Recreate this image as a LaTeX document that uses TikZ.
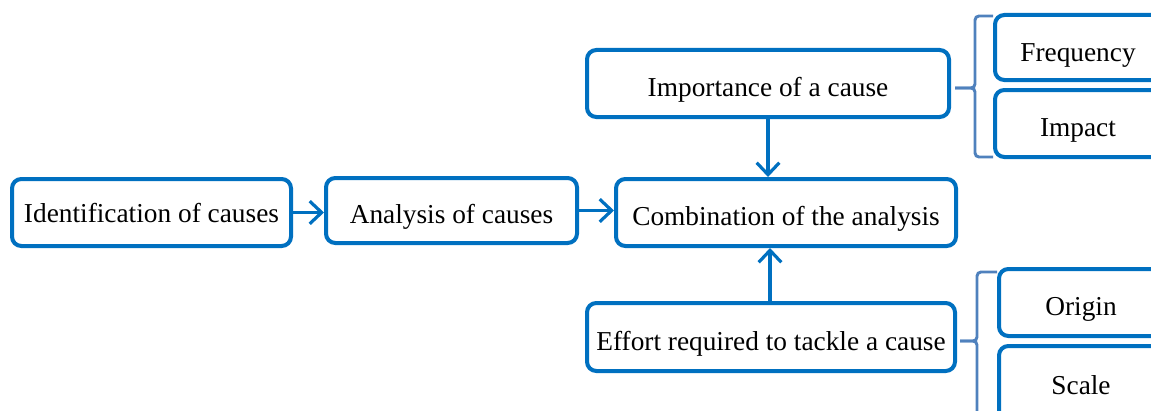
\documentclass[tikz,border=0pt]{standalone}
\usepackage{fontspec}
\setmainfont{Liberation Serif}
\usetikzlibrary{arrows.meta}
\definecolor{boxblue}{RGB}{0,112,192}
\definecolor{bracecol}{RGB}{79,129,189}
\tikzset{
  stepbox/.style={draw=boxblue, line width=3pt, rounded corners=7pt, inner sep=0pt,
    font=\fontsize{20.5}{24}\selectfont, text depth=0pt, text height=20pt},
  flow/.style={draw=boxblue, line width=2.4pt, -{Straight Barb[length=9pt,width=17pt,line width=2.4pt]}},
  bracel/.style={draw=bracecol, line width=2.2pt, rounded corners=3pt}
}
\begin{document}
\begin{tikzpicture}[x=0.75pt,y=-0.75pt]
\useasboundingbox (0,0) rectangle (1151,410);
\clip (0,0) rectangle (1151,410);
\node[stepbox, text height=14.25pt, minimum width=209.25pt, minimum height=50.25pt] (ident) at (151.5,212.5) {Identification of causes};
\node[stepbox, minimum width=188.25pt, minimum height=48.75pt] (anal) at (451.5,210.5) {Analysis of causes};
\node[stepbox, minimum width=255pt, minimum height=50.25pt] (comb) at (786,212.5) {Combination of the analysis};
\node[stepbox, text height=18.75pt, minimum width=271.5pt, minimum height=50.25pt] (imp) at (768,83.5) {Importance of a cause};
\node[stepbox, text height=19.5pt, minimum width=276pt, minimum height=51pt] (eff) at (771,337) {Effort required to tackle a cause};
\node[stepbox, text height=21.5pt, minimum width=124.5pt, minimum height=48.75pt] (freq) at (1078,47.5) {Frequency};
\node[stepbox, minimum width=124.5pt, minimum height=50.25pt] (impact) at (1078,123.5) {Impact};
\node[stepbox, minimum width=123pt, minimum height=50.25pt] (orig) at (1081,302.5) {Origin};
\node[stepbox, text height=16.5pt, minimum width=123pt, minimum height=55.5pt] (scale) at (1081,383) {Scale};
\draw[flow] (ident.east) -- (anal.west |- ident.east);
\draw[flow] (anal.east) -- (comb.west |- anal.east);
\draw[flow] (imp.south -| 768,0) -- (comb.north -| 768,0);
\draw[flow] (eff.north -| 770,0) -- (comb.south -| 770,0);
\coordinate (b1tip) at (955,88);
\coordinate (b2tip) at (960,341);
\draw[bracel] (freq.north west |- 0,16) -- (975,16) -- (975,88) -- (b1tip);
\draw[bracel] (b1tip) -- (975,88) -- (975,157) -- (impact.south west |- 0,157);
\draw[bracel] (orig.north west |- 0,272) -- (977,272) -- (977,341) -- (b2tip);
\draw[bracel] (b2tip) -- (977,341) -- (977,420);
\end{tikzpicture}
\end{document}
